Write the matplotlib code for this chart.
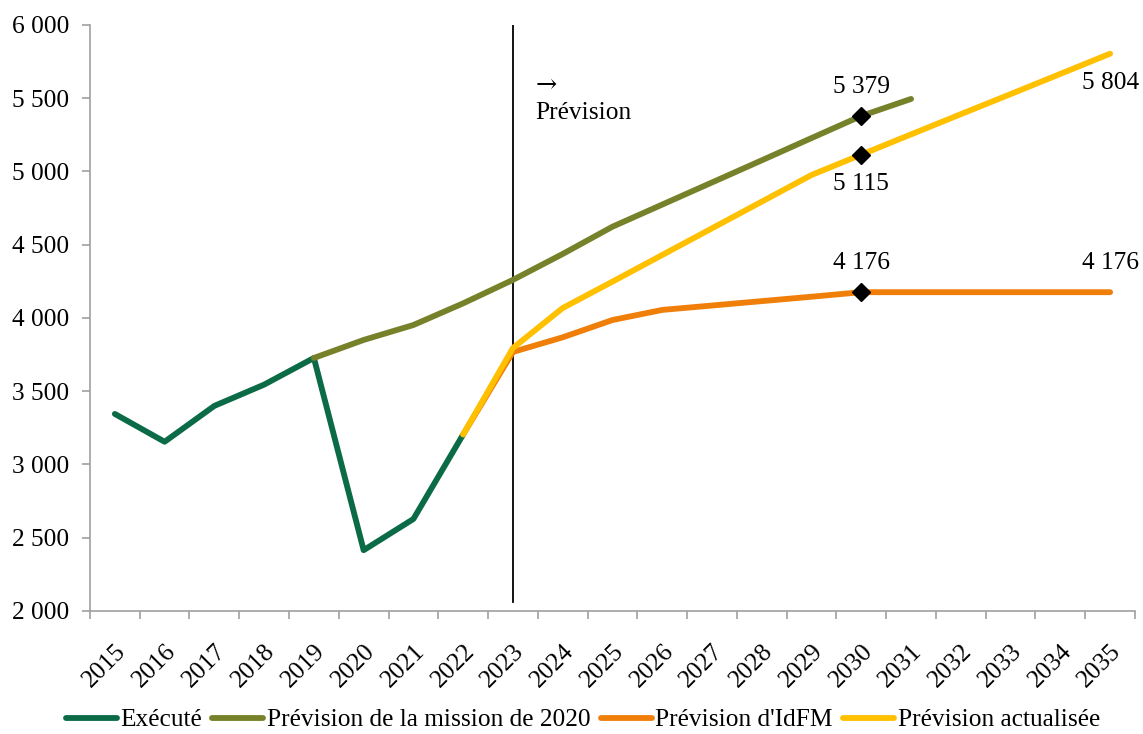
import matplotlib
matplotlib.use("Agg")
import matplotlib.pyplot as plt
import numpy as np

years = [str(y) for y in range(2015, 2036)]

execute = [3345, 3155, 3400, 3545, 3727, 2415, 2628, 3205] + [None] * 13
mission_2020 = [None] * 4 + [3727, 3850, 3952, 4100, 4260, 4437, 4623, 4774, 4925, 5076, 5228, 5379, 5495] + [None] * 4
idfm = [None] * 7 + [3205, 3768, 3868, 3986, 4055, 4085, 4115, 4145, 4176, 4176, 4176, 4176, 4176, 4176]
actualisee = [None] * 7 + [3205, 3795, 4068, 4248, 4430, 4612, 4794, 4976, 5115, 5253, 5391, 5528, 5666, 5804]

series_names = ["Exécuté", "Prévision de la mission de 2020", "Prévision d'IdFM", "Prévision actualisée"]
series_values = [execute, mission_2020, idfm, actualisee]
colors = ["#0B6B47", "#768129", "#F07F09", "#FFC000"]

annot_year = "2030"
annots = [(years.index("2030"), 5379, "5 379", "above"),
          (years.index("2030"), 5115, "5 115", "below"),
          (years.index("2030"), 4176, "4 176", "above"),
          (years.index("2035"), 4176, "4 176", "above"),
          (years.index("2035"), 5804, "5 804", "below")]
marker_series = [1, 2, 3]

plt.rcParams['font.family'] = ['Liberation Serif', 'DejaVu Serif']
FS = 18.3

fig = plt.figure(figsize=(11.43, 7.34), dpi=100)
ax = fig.add_axes([0.0787, 0.1676, 0.9143, 0.7984])

x = np.arange(len(years))
for i, (name, vals, c) in enumerate(zip(series_names, series_values, colors)):
    v = np.array([np.nan if a is None else a for a in vals], dtype=float)
    ax.plot(x, v, color=c, lw=4.2, solid_capstyle='round', solid_joinstyle='round',
            label=name, zorder=2 + i)

idx30 = years.index(annot_year)
for i in marker_series:
    ax.plot([idx30], [series_values[i][idx30]], marker='D', color='black', ms=9,
            ls='none', zorder=10)

for xi, yv, txt, pos in annots:
    dy = 13 if pos == "above" else -13
    va = 'bottom' if pos == "above" else 'top'
    ax.annotate(txt, (xi, yv), xytext=(0, dy), textcoords='offset points',
                ha='center', va=va, fontsize=FS, color='black')

ax.plot([years.index("2023"), years.index("2023")], [6000, 2060], color='black', lw=1.3, zorder=1)
ax.text(8.45, 5590, "→", ha='left', va='center', fontsize=FS, family=['DejaVu Serif'])
ax.text(8.45, 5400, "Prévision", ha='left', va='center', fontsize=FS)

ax.set_xlim(-0.5, len(years) - 0.5)
ax.set_ylim(2000, 6000)
ax.set_yticks(np.arange(2000, 6001, 500))
ax.set_yticklabels([f"{v:,}".replace(",", " ") for v in range(2000, 6001, 500)], fontsize=FS)

ax.set_xticks(np.arange(-0.5, len(years), 1.0))
ax.set_xticklabels([])
ax.set_xticks(x, minor=True)
ax.set_xticklabels(years, minor=True, rotation=45, ha='right', rotation_mode='anchor', fontsize=FS)
ax.tick_params(axis='x', which='minor', length=0, pad=21)
ax.tick_params(axis='x', which='major', length=6, color='#A0A0A0', width=1.2)
ax.tick_params(axis='y', length=6, color='#A0A0A0', width=1.2, pad=9)

for s in ['top', 'right']:
    ax.spines[s].set_visible(False)
for s in ['left', 'bottom']:
    ax.spines[s].set_color('#A0A0A0')
    ax.spines[s].set_linewidth(1.2)

fig.legend(loc='center', bbox_to_anchor=(0.51, 1 - 720 / 734), ncol=4, frameon=False,
           fontsize=FS, handlelength=2.0, handletextpad=0.15, columnspacing=0.4,
           borderpad=0.1)

fig.savefig("out.png", dpi=100)
